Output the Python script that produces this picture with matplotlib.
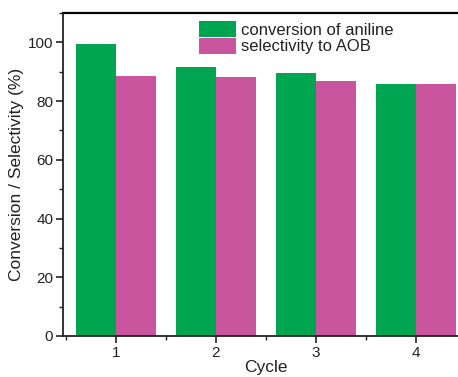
import numpy as np
import matplotlib
matplotlib.use("Agg")
import matplotlib.pyplot as plt
from matplotlib.ticker import MultipleLocator

plt.rcParams['font.family'] = ['Liberation Sans', 'DejaVu Sans']

# data
cycles = [1, 2, 3, 4]
conversion = [99.3, 91.5, 89.4, 85.8]
selectivity = [88.7, 88.2, 86.7, 85.8]
labels = ["conversion of aniline", "selectivity to AOB"]

green = '#00a551'
magenta = '#c9559e'

fig = plt.figure(figsize=(4.58, 3.77), dpi=100)
ax = fig.add_axes([0.1376, 0.1088, 0.886, 0.8568])

x = np.array(cycles)
w = 0.4
ax.bar(x - w/2, conversion, width=w, color=green, label=labels[0])
ax.bar(x + w/2, selectivity, width=w, color=magenta, label=labels[1])

ax.set_xlim(0.47, 4.53)
ax.set_ylim(0, 110)
ax.set_xticks(cycles)
ax.xaxis.set_minor_locator(MultipleLocator(0.5))
ax.yaxis.set_major_locator(MultipleLocator(20))
ax.yaxis.set_minor_locator(MultipleLocator(10))

for s in ['left', 'bottom', 'top']:
    ax.spines[s].set_linewidth(1.3)
    ax.spines[s].set_color('#222222')
ax.spines['top'].set_linewidth(1.6)
ax.spines['top'].set_color('black')
ax.spines['right'].set_visible(False)

ax.tick_params(which='major', direction='out', length=5, width=1.2, labelsize=11, colors='#222222')
ax.tick_params(which='minor', direction='out', length=3, width=1.0, colors='#222222')
ax.tick_params(axis='x', which='both', top=False, pad=2)
ax.tick_params(axis='y', pad=2)

ax.set_xlabel("Cycle", fontsize=12.5, labelpad=0, color='#222222')
ax.set_ylabel("Conversion / Selectivity (%)", fontsize=12.5, labelpad=3, color='#222222')

ax.legend(loc='upper left', bbox_to_anchor=(0.336, 0.975), frameon=False,
          fontsize=12, handlelength=2.2, handleheight=1.1, labelspacing=0.0,
          handletextpad=0.3, borderpad=0, borderaxespad=0, labelcolor='#222222')

fig.savefig("out.png", dpi=100)
